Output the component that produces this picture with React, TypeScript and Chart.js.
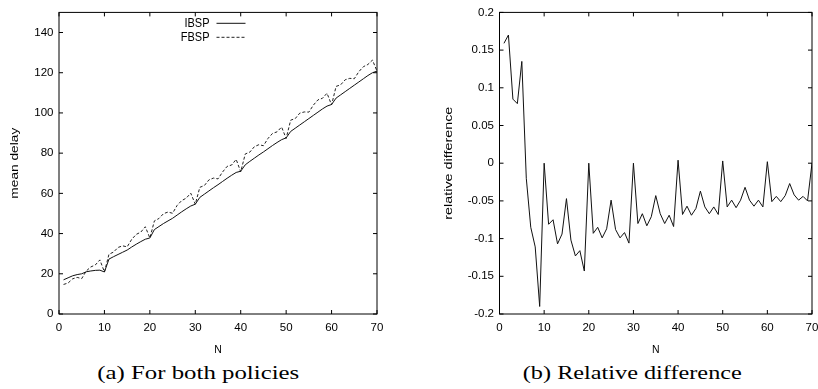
import React, { useEffect, useRef } from 'react';
import { Chart, registerables } from 'chart.js';

Chart.register(...registerables);

// ---------------- data ----------------
const N_VALUES = [
  1, 2, 3, 4, 5, 6, 7, 8, 9, 10, 11, 12, 13, 14, 15, 16, 17, 18, 19, 20,
  21, 22, 23, 24, 25, 26, 27, 28, 29, 30, 31, 32, 33, 34, 35, 36, 37, 38, 39, 40,
  41, 42, 43, 44, 45, 46, 47, 48, 49, 50, 51, 52, 53, 54, 55, 56, 57, 58, 59, 60,
  61, 62, 63, 64, 65, 66, 67, 68, 69, 70,
];

const IBSP = [
  17.0, 18.0, 19.0, 19.6, 20.0, 21.0, 21.4, 21.7, 21.8, 20.9,
  27.3, 28.5, 29.6, 30.7, 31.8, 33.3, 34.7, 36.0, 37.2, 37.8,
  42.0, 43.5, 45.0, 46.3, 47.6, 49.2, 50.8, 52.3, 53.7, 54.6,
  58.0, 59.6, 61.2, 62.8, 64.3, 65.9, 67.5, 69.0, 70.4, 71.0,
  74.2, 75.9, 77.5, 79.1, 80.6, 82.2, 83.8, 85.3, 86.7, 87.6,
  90.8, 92.4, 94.0, 95.6, 97.2, 98.8, 100.4, 102.0, 103.4, 104.2,
  107.4, 109.0, 110.6, 112.2, 113.8, 115.4, 117.0, 118.6, 120.0, 120.8,
];

const FBSP = [
  14.7, 15.4, 17.5, 18.2, 17.6, 21.4, 23.4, 24.4, 26.9, 20.9,
  29.7, 30.8, 33.1, 33.9, 33.4, 37.1, 39.6, 40.7, 43.4, 37.8,
  46.3, 47.5, 49.9, 50.7, 50.1, 54.0, 56.4, 57.6, 60.1, 54.6,
  63.0, 63.9, 66.7, 67.6, 67.2, 70.6, 73.4, 74.1, 76.9, 70.7,
  79.6, 80.5, 83.2, 84.2, 83.7, 87.3, 89.8, 90.6, 93.0, 87.3,
  96.4, 97.2, 99.9, 100.5, 100.4, 103.9, 106.5, 107.3, 109.8, 104.0,
  113.2, 114.0, 116.5, 117.2, 117.0, 120.5, 123.0, 124.1, 126.3, 120.8,
];

const REL_DIFF = [
  0.159, 0.170, 0.085, 0.079, 0.135, -0.020, -0.085, -0.111, -0.190, 0.0,
  -0.081, -0.075, -0.107, -0.094, -0.047, -0.102, -0.123, -0.116, -0.143, 0.0,
  -0.093, -0.085, -0.099, -0.087, -0.049, -0.088, -0.099, -0.092, -0.106, 0.0,
  -0.080, -0.067, -0.083, -0.071, -0.043, -0.067, -0.080, -0.069, -0.084, 0.004,
  -0.068, -0.057, -0.069, -0.060, -0.037, -0.058, -0.067, -0.058, -0.068, 0.003,
  -0.058, -0.049, -0.059, -0.049, -0.032, -0.049, -0.057, -0.049, -0.058, 0.002,
  -0.051, -0.044, -0.051, -0.043, -0.027, -0.042, -0.049, -0.044, -0.050, 0.0,
];

const X_TICKS = [0, 10, 20, 30, 40, 50, 60, 70];
const DELAY_TICKS = [0, 20, 40, 60, 80, 100, 120, 140];
const REL_TICKS = [-0.2, -0.15, -0.1, -0.05, 0, 0.05, 0.1, 0.15, 0.2];

const FONT = '"Liberation Sans", Arial, Helvetica, sans-serif';

// ---------------- gnuplot-like frame / titles / key ----------------
const gnuPlugin = {
  id: 'gnu',
  afterDraw(chart: any, _args: any, o: any) {
    const { ctx, chartArea: a, scales } = chart;
    const xs = scales.x;
    const ys = scales.y;
    ctx.save();
    ctx.strokeStyle = '#000';
    ctx.fillStyle = '#000';
    ctx.lineWidth = 1;
    ctx.setLineDash([]);
    const tl = 4;
    ctx.beginPath();
    xs.ticks.forEach((t: any) => {
      const p = xs.getPixelForValue(t.value);
      ctx.moveTo(p, a.bottom);
      ctx.lineTo(p, a.bottom - tl);
      ctx.moveTo(p, a.top);
      ctx.lineTo(p, a.top + tl);
    });
    ys.ticks.forEach((t: any) => {
      const p = ys.getPixelForValue(t.value);
      ctx.moveTo(a.left, p);
      ctx.lineTo(a.left + tl, p);
      ctx.moveTo(a.right, p);
      ctx.lineTo(a.right - tl, p);
    });
    ctx.stroke();
    ctx.strokeRect(a.left, a.top, a.right - a.left, a.bottom - a.top);

    // y title (rotated, stretched along its length)
    ctx.save();
    ctx.translate(o.yTitleX, (a.top + a.bottom) / 2);
    ctx.rotate(-Math.PI / 2);
    ctx.font = `${o.titleSize}px ${FONT}`;
    const w = ctx.measureText(o.yTitle).width;
    ctx.scale(o.yTitleLen / w, 1);
    ctx.textAlign = 'center';
    ctx.textBaseline = 'middle';
    ctx.fillText(o.yTitle, 0, 0);
    ctx.restore();

    // x title
    ctx.save();
    ctx.font = `${o.xTitleSize}px ${FONT}`;
    ctx.textAlign = 'center';
    ctx.textBaseline = 'middle';
    ctx.translate((a.left + a.right) / 2, o.xTitleY);
    ctx.scale(1, 1.1);
    ctx.fillText(o.xTitle, 0, 0);
    ctx.restore();

    // key
    if (o.key) {
      const k = o.key;
      chart.data.datasets.forEach((ds: any, i: number) => {
        const y = k.y + i * k.gap;
        ctx.save();
        ctx.font = `${k.size}px ${FONT}`;
        ctx.textAlign = 'right';
        ctx.textBaseline = 'middle';
        ctx.translate(k.textRight, y);
        ctx.scale(1, k.stretch);
        ctx.fillText(ds.label, 0, 0);
        ctx.restore();
        ctx.save();
        ctx.beginPath();
        ctx.strokeStyle = ds.borderColor;
        ctx.lineWidth = ds.borderWidth;
        ctx.setLineDash(ds.borderDash || []);
        ctx.moveTo(k.x1, y);
        ctx.lineTo(k.x2, y);
        ctx.stroke();
        ctx.restore();
      });
    }
    ctx.restore();
  },
};

function fmt(v: number) {
  return String(Number(v.toFixed(2)));
}

function makeConfig(p: {
  datasets: any[];
  yMin: number;
  yMax: number;
  yTicks: number[];
  yAxisW: number;
  xAxisH: number;
  padRight: number;
  padTop: number;
  gnu: any;
}) {
  return {
    type: 'line',
    data: { datasets: p.datasets },
    plugins: [gnuPlugin],
    options: {
      animation: false,
      responsive: false,
      maintainAspectRatio: false,
      events: [],
      layout: { padding: { top: p.padTop, left: 0, right: p.padRight, bottom: 0 } },
      plugins: {
        legend: { display: false },
        tooltip: { enabled: false },
        gnu: p.gnu,
      },
      elements: { point: { radius: 0 }, line: { tension: 0 } },
      scales: {
        x: {
          type: 'linear',
          min: 0,
          max: 70,
          afterBuildTicks: (s: any) => {
            s.ticks = X_TICKS.map((v) => ({ value: v }));
          },
          afterFit: (s: any) => {
            s.height = p.xAxisH;
          },
          ticks: {
            autoSkip: false,
            maxRotation: 0,
            padding: 7,
            color: '#000',
            font: { family: FONT, size: 11.5 },
            callback: (v: any) => fmt(Number(v)),
          },
          grid: { display: false, drawTicks: false },
          border: { display: false },
        },
        y: {
          type: 'linear',
          min: p.yMin,
          max: p.yMax,
          afterBuildTicks: (s: any) => {
            s.ticks = p.yTicks.map((v) => ({ value: v }));
          },
          afterFit: (s: any) => {
            s.width = p.yAxisW;
          },
          ticks: {
            autoSkip: false,
            padding: 5.5,
            color: '#000',
            font: { family: FONT, size: 11.5 },
            callback: (v: any) => fmt(Number(v)),
          },
          grid: { display: false, drawTicks: false },
          border: { display: false },
        },
      },
    },
  } as any;
}

function ChartCanvas({ config, width, height, left }: { config: any; width: number; height: number; left: number }) {
  const ref = useRef<HTMLCanvasElement | null>(null);
  useEffect(() => {
    if (!ref.current) return;
    const c = new Chart(ref.current, config);
    return () => c.destroy();
  }, []);
  return (
    <canvas
      ref={ref}
      width={width}
      height={height}
      style={{ position: 'absolute', left, top: 0, width, height }}
    />
  );
}

function Caption({ text, center, width }: { text: string; center: number; width: number }) {
  const ref = useRef<HTMLSpanElement | null>(null);
  useEffect(() => {
    const el = ref.current;
    if (!el) return;
    const w = el.getBoundingClientRect().width;
    if (w > 0) el.style.transform = `scaleX(${width / w})`;
  }, []);
  return (
    <div
      style={{
        position: 'absolute',
        left: center - 200,
        width: 400,
        top: 362,
        height: 22,
        lineHeight: '22px',
        textAlign: 'center',
        fontFamily: '"Liberation Serif", "Times New Roman", serif',
        fontSize: 18,
        color: '#000',
        whiteSpace: 'nowrap',
      }}
    >
      <span ref={ref} style={{ display: 'inline-block', transformOrigin: '50% 50%' }}>
        {text}
      </span>
    </div>
  );
}

export default function App() {
  const leftDatasets = [
    {
      label: 'IBSP',
      data: N_VALUES.map((n, i) => ({ x: n, y: IBSP[i] })),
      borderColor: '#111',
      borderWidth: 1,
      pointRadius: 0,
      fill: false,
    },
    {
      label: 'FBSP',
      data: N_VALUES.map((n, i) => ({ x: n, y: FBSP[i] })),
      borderColor: '#222',
      borderWidth: 1,
      borderDash: [3, 2],
      pointRadius: 0,
      fill: false,
    },
  ];
  const rightDatasets = [
    {
      label: 'relative difference',
      data: N_VALUES.map((n, i) => ({ x: n, y: REL_DIFF[i] })),
      borderColor: '#111',
      borderWidth: 1,
      pointRadius: 0,
      fill: false,
    },
  ];

  const leftConfig = makeConfig({
    datasets: leftDatasets,
    yMin: 0,
    yMax: 150,
    yTicks: DELAY_TICKS,
    yAxisW: 59,
    xAxisH: 48,
    padRight: 23,
    padTop: 12,
    gnu: {
      yTitle: 'mean delay',
      yTitleX: 15,
      yTitleLen: 71,
      titleSize: 10,
      xTitle: 'N',
      xTitleY: 350,
      xTitleSize: 10.5,
      key: { y: 23.3, gap: 14, textRight: 209.5, x1: 216.5, x2: 245.5, size: 11, stretch: 1.2 },
    },
  });

  const rightConfig = makeConfig({
    datasets: rightDatasets,
    yMin: -0.2,
    yMax: 0.2,
    yTicks: REL_TICKS,
    yAxisW: 89.5,
    xAxisH: 48,
    padRight: 18,
    padTop: 12,
    gnu: {
      yTitle: 'relative difference',
      yTitleX: 39.3,
      yTitleLen: 113,
      titleSize: 10,
      xTitle: 'N',
      xTitleY: 350,
      xTitleSize: 10.5,
    },
  });

  return (
    <div
      style={{
        position: 'fixed',
        left: 0,
        top: 0,
        width: 818,
        height: 389,
        overflow: 'hidden',
        background: '#fff',
      }}
    >
      <ChartCanvas config={leftConfig} width={400} height={362} left={0} />
      <ChartCanvas config={rightConfig} width={420} height={362} left={410} />
      <Caption text="(a) For both policies" center={198} width={202} />
      <Caption text="(b) Relative difference" center={632.5} width={219} />
    </div>
  );
}
